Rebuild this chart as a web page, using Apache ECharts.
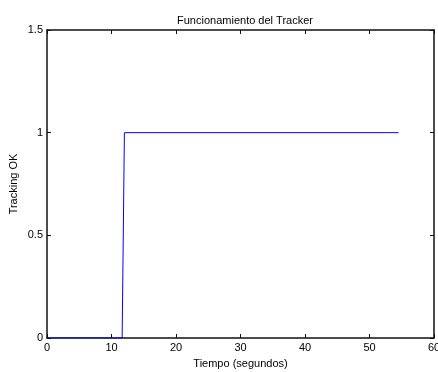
<!DOCTYPE html>
<html>
<head>
<meta charset="utf-8">
<script src="https://cdn.jsdelivr.net/npm/echarts@6/dist/echarts.min.js"></script>
<style>
  html, body { margin: 0; padding: 0; background: #fff; }
  #chart { width: 438px; height: 372px; }
</style>
</head>
<body>
<div id="chart"></div>
<script>
// Tracker status over time
var tiempo = [0, 11.65, 12.0, 54.5];
var tracking = [0, 0, 1, 1];
var xTicks = [0, 10, 20, 30, 40, 50, 60];
var yTicks = [0, 0.5, 1, 1.5];

var points = tiempo.map(function(t, i) { return [t, tracking[i]]; });

var myChart = echarts.init(document.getElementById('chart'));
var font = 'Liberation Sans, Arial, sans-serif';
var axisLine = { show: true, onZero: false, lineStyle: { color: '#111', width: 1.5 } };
var tick = { show: true, inside: true, length: 4, lineStyle: { color: '#111' } };

var option = {
	animation: false,
	title: {
		text: 'Funcionamiento del Tracker',
		left: 240,
		top: 10,
		textAlign: 'center',
		textStyle: { fontFamily: font, fontSize: 11, fontWeight: 'normal', color: '#000' }
	},
	grid: { left: 47, right: 4, top: 30, bottom: 34, show: false, outerBoundsMode: 'none', containLabel: false },
	xAxis: [{
		type: 'value',
		min: xTicks[0], max: xTicks[xTicks.length - 1], interval: 10,
		position: 'bottom',
		axisLine: axisLine,
		axisTick: tick,
		splitLine: { show: false },
		axisLabel: { fontFamily: font, fontSize: 11, color: '#000', margin: 4 },
		name: 'Tiempo (segundos)',
		nameLocation: 'middle',
		nameGap: 20,
		nameMoveOverlap: false,
		nameTextStyle: { fontFamily: font, fontSize: 11, color: '#000' }
	}, {
		type: 'value',
		min: xTicks[0], max: xTicks[xTicks.length - 1], interval: 10,
		position: 'top',
		axisLine: axisLine,
		axisTick: tick,
		splitLine: { show: false },
		axisLabel: { show: false }
	}],
	yAxis: [{
		type: 'value',
		min: yTicks[0], max: yTicks[yTicks.length - 1], interval: 0.5,
		position: 'left',
		axisLine: axisLine,
		axisTick: tick,
		splitLine: { show: false },
		axisLabel: { fontFamily: font, fontSize: 11, color: '#000', margin: 4 },
		name: 'Tracking OK',
		nameLocation: 'middle',
		nameGap: 28,
		nameMoveOverlap: false,
		nameTextStyle: { fontFamily: font, fontSize: 11, color: '#000' }
	}, {
		type: 'value',
		min: yTicks[0], max: yTicks[yTicks.length - 1], interval: 0.5,
		position: 'right',
		axisLine: axisLine,
		axisTick: tick,
		splitLine: { show: false },
		axisLabel: { show: false }
	}],
	series: [{
		type: 'line',
		data: points,
		showSymbol: false,
		lineStyle: { color: '#0000ff', width: 1 },
		z: 1
	}]
};
myChart.setOption(option);
</script>
</body>
</html>
